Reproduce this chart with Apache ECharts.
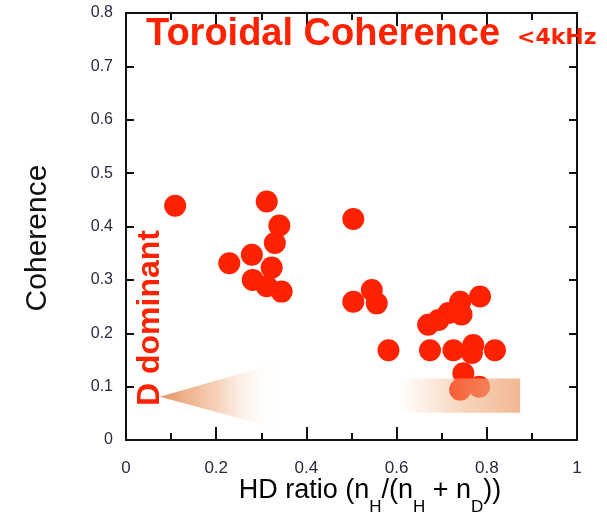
<!DOCTYPE html>
<html>
<head>
<meta charset="utf-8">
<title>Toroidal Coherence</title>
<script src="https://cdn.jsdelivr.net/npm/echarts@6/dist/echarts.min.js"></script>
<style>
  html, body { margin: 0; padding: 0; background: #fff; }
  #chart { width: 607px; height: 520px; }
</style>
</head>
<body>
<div id="chart"></div>
<script>
// HD ratio n_H/(n_H + n_D) for each shot
const hdRatio = [
  0.109, 0.312, 0.340, 0.330, 0.229, 0.279, 0.323, 0.281, 0.312, 0.345,
  0.504, 0.504, 0.545, 0.556, 0.582,
  0.670, 0.693, 0.715, 0.741, 0.744, 0.785,
  0.674, 0.726, 0.770, 0.767, 0.818,
  0.748, 0.741, 0.783
];
// toroidal coherence (<4kHz)
const coherence = [
  0.439, 0.447, 0.402, 0.369, 0.331, 0.347, 0.323, 0.300, 0.288, 0.278,
  0.414, 0.259, 0.281, 0.256, 0.168,
  0.216, 0.225, 0.238, 0.259, 0.235, 0.269,
  0.168, 0.168, 0.178, 0.163, 0.168,
  0.125, 0.094, 0.100
];

const xTicks = [0, 0.2, 0.4, 0.6, 0.8, 1];
const yTicks = [0, 0.1, 0.2, 0.3, 0.4, 0.5, 0.6, 0.7, 0.8];

// annotation shapes (in data units)
const arrowTriangle = [0.075, 0.081, 0.334, 0.144, 0.334, 0.022]; // tip, top-right, bottom-right
const hBand = [0.607, 0.051, 0.874, 0.115]; // x0, y0, x1, y1

const RED = "#ff2200";

const chart = echarts.init(document.getElementById("chart"), null, { renderer: "canvas" });

const frameAxis = (pos, isX) => ({
  type: "value",
  position: pos,
  min: isX ? xTicks[0] : yTicks[0],
  max: isX ? xTicks[xTicks.length - 1] : yTicks[yTicks.length - 1],
  interval: isX ? 0.2 : 0.1,
  axisLine: { show: true, onZero: false, lineStyle: { color: "#111", width: 2 } },
  axisTick: { show: true, inside: true, length: isX ? 13 : 8, lineStyle: { color: "#111", width: 2 } },
  minorTick: { show: isX, splitNumber: 2, length: 7, lineStyle: { color: "#111", width: 2 } },
  axisLabel: { show: false },
  splitLine: { show: false },
});

const option = {
  animation: false,
  grid: { left: 126, right: 30, top: 13, bottom: 80 },
  xAxis: [
    Object.assign(frameAxis("bottom", true), {
      axisLabel: {
        show: true,
        margin: 20,
        fontSize: 17,
        color: "#2a2a3a",
        fontFamily: "Liberation Sans",
        formatter: (v) => String(v),
      },
    }),
    frameAxis("top", true),
  ],
  yAxis: [
    Object.assign(frameAxis("left", false), {
      axisLabel: {
        show: true,
        margin: 13,
        fontSize: 16,
        color: "#2a2a3a",
        fontFamily: "Liberation Sans",
        padding: [5, 0, 0, 0],
        formatter: (v) => String(v),
      },
    }),
    frameAxis("right", false),
  ],
  series: [
    {
      // fading arrow pointing to "D dominant"
      type: "custom",
      xAxisIndex: 0,
      yAxisIndex: 0,
      z: 1,
      silent: true,
      data: [arrowTriangle],
      renderItem: (params, api) => {
        const p0 = api.coord([api.value(0), api.value(1)]);
        const p1 = api.coord([api.value(2), api.value(3)]);
        const p2 = api.coord([api.value(4), api.value(5)]);
        return {
          type: "polygon",
          shape: { points: [p0, p1, p2] },
          style: {
            fill: new echarts.graphic.LinearGradient(0, 0, 1, 0, [
              { offset: 0, color: "rgba(230,140,85,0.95)" },
              { offset: 0.5, color: "rgba(240,180,140,0.6)" },
              { offset: 1, color: "rgba(255,255,255,0)" },
            ]),
          },
        };
      },
    },
    {
      type: "scatter",
      xAxisIndex: 0,
      yAxisIndex: 0,
      z: 2,
      symbol: "circle",
      symbolSize: 22,
      itemStyle: { color: RED, opacity: 1 },
      data: hdRatio.map((x, i) => [x, coherence[i]]),
    },
    {
      // H dominant band, drawn over the points
      type: "custom",
      xAxisIndex: 0,
      yAxisIndex: 0,
      z: 3,
      silent: true,
      data: [hBand],
      renderItem: (params, api) => {
        const a = api.coord([api.value(0), api.value(3)]);
        const b = api.coord([api.value(2), api.value(1)]);
        return {
          type: "rect",
          shape: { x: a[0], y: a[1], width: b[0] - a[0], height: b[1] - a[1] },
          style: {
            fill: new echarts.graphic.LinearGradient(0, 0, 1, 0, [
              { offset: 0, color: "rgba(240,175,130,0)" },
              { offset: 0.55, color: "rgba(240,175,130,0.55)" },
              { offset: 1, color: "rgba(238,170,125,0.85)" },
            ]),
          },
        };
      },
    },
  ],
  graphic: [
    {
      type: "text",
      left: 146,
      top: 16,
      z: 10,
      style: {
        text: "Toroidal Coherence",
        fill: RED,
        font: "bold 38px 'Liberation Sans', Arial, sans-serif",
      },
    },
    {
      type: "text",
      left: 517,
      top: 27,
      z: 10,
      style: {
        text: "<4kHz",
        fill: RED,
        font: "bold 22px 'DejaVu Sans', sans-serif",
      },
    },
    {
      type: "text",
      x: 150,
      y: 318,
      rotation: Math.PI / 2,
      z: 10,
      style: {
        text: "D dominant",
        fill: RED,
        align: "center",
        verticalAlign: "middle",
        font: "bold 32px 'Liberation Sans', Arial, sans-serif",
      },
    },
    {
      type: "text",
      x: 38,
      y: 238,
      rotation: Math.PI / 2,
      style: {
        text: "Coherence",
        fill: "#111",
        align: "center",
        verticalAlign: "middle",
        font: "30px 'Liberation Sans', Arial, sans-serif",
      },
    },
    {
      type: "text",
      x: 370,
      y: 477,
      style: {
        text: "{a|HD ratio (n}{s|H}{a|/(n}{s|H}{a| + n}{s|D}{a|))}",
        align: "center",
        verticalAlign: "top",
        rich: {
          a: { fontSize: 27, fontFamily: "Liberation Sans", color: "#111", verticalAlign: "top" },
          s: { fontSize: 17, fontFamily: "Liberation Sans", color: "#111", verticalAlign: "top", padding: [22, 0, 0, 0] },
        },
      },
    },
  ],
};

chart.setOption(option);
</script>
</body>
</html>
